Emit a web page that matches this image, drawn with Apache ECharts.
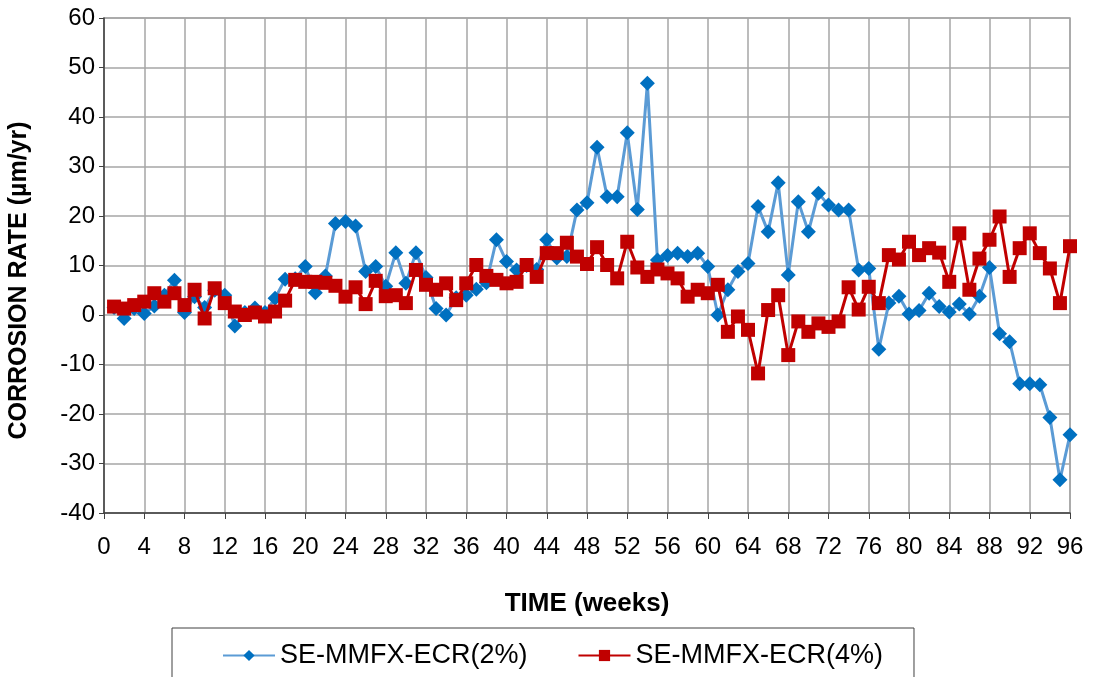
<!DOCTYPE html>
<html>
<head>
<meta charset="utf-8">
<script src="https://cdn.jsdelivr.net/npm/echarts@6/dist/echarts.min.js"></script>
<style>
  html, body { margin: 0; padding: 0; background: #fff; }
  #chart { width: 1093px; height: 677px; }
</style>
</head>
<body>
<div id="chart"></div>
<script>
// weeks 1..96
var weeks = [];
for (var i = 1; i <= 96; i++) weeks.push(i);

// SE-MMFX-ECR(2%)
var rate2 = [
  1.5, -0.7, 1.3, 0.3, 1.8, 4, 7, 0.5, 3.7, 1.5,
  5, 4, -2.2, 0.5, 1.4, 0.5, 3.4, 7.2, 7.3, 9.8,
  4.5, 7.9, 18.5, 18.9, 18, 8.8, 9.8, 5.8, 12.6, 6.4,
  12.6, 7.6, 1.3, 0, 3.5, 4, 5.2, 6.5, 15.2, 10.8,
  9.1, 10, 9.2, 15.2, 11.5, 11.8, 21.2, 22.7, 33.9, 23.9,
  23.9, 36.8, 21.3, 46.8, 11.1, 12, 12.5, 11.8, 12.5, 9.8,
  0, 5.1, 8.8, 10.4, 21.9, 16.8, 26.7, 8.1, 22.9, 16.8,
  24.6, 22.2, 21.2, 21.2, 9.1, 9.4, -6.9, 2.4, 3.8, 0.2,
  0.9, 4.4, 1.7, 0.6, 2.2, 0.2, 3.8, 9.6, -3.8, -5.4,
  -13.9, -13.9, -14.1, -20.7, -33.3, -24.2
];

// SE-MMFX-ECR(4%)
var rate4 = [
  1.7, 1.3, 2, 2.7, 4.4, 2.7, 4.4, 2, 5.1, -0.7,
  5.4, 2.4, 0.7, 0, 0.5, -0.3, 0.7, 2.9, 7.1, 6.7,
  6.7, 6.5, 5.9, 3.7, 5.6, 2.2, 6.9, 3.8, 4, 2.4,
  9.1, 6.1, 5.1, 6.4, 3, 6.4, 10.1, 7.9, 7.1, 6.4,
  6.7, 10.1, 7.7, 12.5, 12.5, 14.6, 11.8, 10.3, 13.7, 10.1,
  7.4, 14.8, 9.6, 7.7, 9.2, 8.4, 7.4, 3.7, 5.1, 4.4,
  6.1, -3.4, -0.3, -3, -11.8, 1, 4, -8.1, -1.3, -3.4,
  -1.7, -2.4, -1.3, 5.6, 1.1, 5.7, 2.4, 12.1, 11.2, 14.8,
  12.1, 13.5, 12.6, 6.7, 16.5, 5.1, 11.4, 15.2, 19.9, 7.7,
  13.5, 16.5, 12.5, 9.4, 2.4, 13.9
];

var pairs = function(ys) {
  return weeks.map(function(w, k) { return [w, ys[k]]; });
};

var FONT = "'Liberation Sans Narrow', 'Liberation Sans', Arial, sans-serif";

var myChart = echarts.init(document.getElementById('chart'));
var option = {
  animation: false,
  textStyle: { fontFamily: FONT },
  grid: {
    left: 104, right: 23, top: 18, bottom: 164,
    outerBoundsMode: 'none',
    containLabel: false,
    show: true, borderColor: '#a6a6a6', borderWidth: 1.5
  },
  legend: {
    top: 628,
    left: 172,
    data: ['SE-MMFX-ECR(2%)', 'SE-MMFX-ECR(4%)'],
    borderColor: '#404040',
    borderWidth: 1,
    padding: [14, 31, 14, 50],
    itemGap: 50,
    itemWidth: 52,
    itemHeight: 14,
    textStyle: { fontSize: 27, color: '#000', fontFamily: FONT }
  },
  xAxis: {
    type: 'value',
    min: 0, max: 96, interval: 4,
    name: 'TIME (weeks)',
    nameLocation: 'middle',
    nameGap: 78,
    nameTextStyle: { fontSize: 26, fontWeight: 'bold', color: '#000' },
    axisLine: { show: true, onZero: false, lineStyle: { color: '#404040', width: 1.5 } },
    axisTick: { show: true, inside: false, length: 6, lineStyle: { color: '#404040' } },
    axisLabel: { fontSize: 24, color: '#000', margin: 22 },
    splitLine: { show: true, lineStyle: { color: '#a6a6a6', width: 1.5 } }
  },
  yAxis: {
    type: 'value',
    min: -40, max: 60, interval: 10,
    name: 'CORROSION RATE (µm/yr)',
    nameLocation: 'middle',
    nameGap: 72,
    nameTextStyle: { fontSize: 25, fontWeight: 'bold', color: '#000', padding: [0, 30, 0, 0] },
    axisLine: { show: true, onZero: false, lineStyle: { color: '#404040', width: 1.5 } },
    axisTick: { show: true, length: 5, lineStyle: { color: '#404040' } },
    axisLabel: { fontSize: 24, color: '#000', margin: 9 },
    splitLine: { show: true, lineStyle: { color: '#a6a6a6', width: 1.5 } }
  },
  series: [{
    name: 'SE-MMFX-ECR(2%)',
    type: 'line',
    data: pairs(rate2),
    symbol: 'diamond',
    symbolSize: 15,
    itemStyle: { color: '#0070C0' },
    lineStyle: { color: '#5B9BD5', width: 3 },
    z: 2
  }, {
    name: 'SE-MMFX-ECR(4%)',
    type: 'line',
    data: pairs(rate4),
    symbol: 'rect',
    symbolSize: 14,
    itemStyle: { color: '#C00000' },
    lineStyle: { color: '#C00000', width: 3 },
    z: 3
  }]
};
myChart.setOption(option);
</script>
</body>
</html>
